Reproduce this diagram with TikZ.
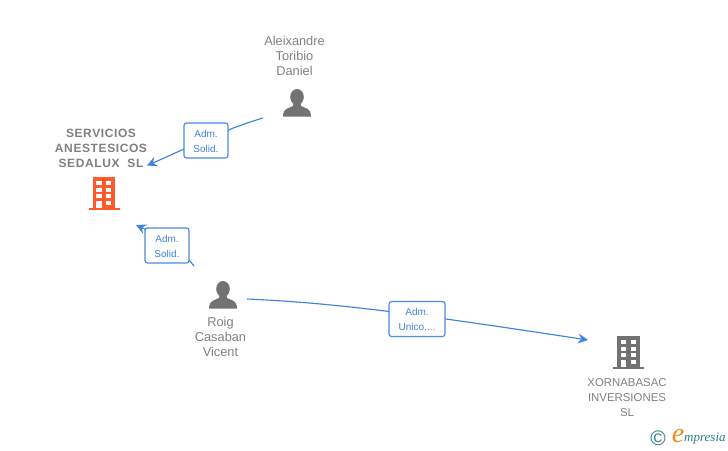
\documentclass[tikz,border=0pt]{standalone}
\usepackage{fontspec}
\setmainfont{Liberation Sans}
\newfontfamily\spacedbold[LetterSpace=5]{Liberation Sans Bold}
\newfontfamily\logofont{Liberation Serif Italic}
\usetikzlibrary{arrows.meta}
\definecolor{txtgrey}{HTML}{808080}
\definecolor{icongrey}{HTML}{727272}
\definecolor{linkblue}{HTML}{3F82E0}
\definecolor{boxblue}{HTML}{4A8BE4}
\definecolor{orangeicon}{HTML}{FF5A2B}
\definecolor{logoteal}{HTML}{2F7C90}
\definecolor{logoorange}{HTML}{F08A1D}
\newcommand{\personicon}[2]{%
  \fill[icongrey] (#1-3.5,#2+14) -- (#1+3.5,#2+14) -- (#1+4,#2+17)
    .. controls (#1+7,#2+19) and (#1+14,#2+18.5) .. (#1+14,#2+27.5)
    -- (#1-14,#2+27.5)
    .. controls (#1-14,#2+18.5) and (#1-7,#2+19) .. (#1-4,#2+17) -- cycle;
  \fill[icongrey] (#1,#2+8) ellipse [x radius=6.8, y radius=8];}
\newcommand{\buildingicon}[3]{%
  \fill[#3] (#1-11.3,#2) rectangle (#1+11.2,#2+31);
  \fill[#3] (#1-15.5,#2+31) rectangle (#1+15.8,#2+33.2);
  \foreach \r in {4.2,10.7,17}{
    \fill[white] (#1-7.6,#2+\r) rectangle (#1-2.2,#2+\r+4.2);
    \fill[white] (#1+2,#2+\r) rectangle (#1+7.4,#2+\r+4.2);}
  \fill[white] (#1-7.6,#2+23.5) rectangle (#1-2.2,#2+31);
  \fill[white] (#1+2,#2+23.5) rectangle (#1+7.4,#2+27.7);}
\tikzset{
  x=1pt,y=-1pt,
  lbl/.style={font=\fontsize{12.8}{15}\selectfont,text=txtgrey,align=center,inner sep=0pt},
  boldlbl/.style={font=\fontsize{12}{15}\selectfont\spacedbold,text=txtgrey,align=center,inner sep=0pt},
  rolebox/.style={draw=boxblue,line width=1.2pt,rounded corners=2.5pt,fill=white,text=linkblue,
    font=\fontsize{10}{15}\selectfont,align=center,inner sep=0pt},
  link/.style={draw=linkblue,line width=1.15pt},
  linkarrow/.style={link,-{Stealth[length=10pt,width=10pt,inset=3.5pt]}}
}
\begin{document}
\begin{tikzpicture}
\useasboundingbox (0,0) rectangle (728,450);
\coordinate (aleixOut) at (263,118);
\coordinate (servIn) at (147,165.5);
\coordinate (roigOut) at (194,266);
\coordinate (servIn2) at (136,225);
\coordinate (roigOut2) at (247,299);
\coordinate (xornIn) at (588,340);
\draw[linkarrow] (aleixOut) .. controls (225,129) and (185,149) .. (servIn);
\draw[linkarrow] (roigOut) .. controls (180,248) and (160,236) .. (servIn2);
\draw[linkarrow] (roigOut2) .. controls (340,303) and (430,316) .. (xornIn);
\node[rolebox,minimum width=44pt,minimum height=35pt] (box1) at (206,140.5) {\parbox{40pt}{\centering\vspace*{2pt}Adm.\\Solid.}};
\node[rolebox,minimum width=44pt,minimum height=35pt] (box2) at (167,245.5) {\parbox{40pt}{\centering\vspace*{2pt}Adm.\\Solid.}};
\node[rolebox,minimum width=56pt,minimum height=35pt] (box3) at (417,319) {\parbox{52pt}{\centering\vspace*{2pt}Adm.\\Unico,...}};
\node[lbl] (aleix) at (294.5,56) {Aleixandre\\Toribio\\Daniel};
\node[lbl] (roig) at (220.5,337.4) {Roig\\Casaban\\Vicent};
\node[boldlbl] (serv) at (101,148) {SERVICIOS\\ANESTESICOS\\SEDALUX\ \ SL};
\node[lbl,font=\fontsize{11.4}{15}\selectfont] (xorn) at (627,398) {XORNABASAC\\INVERSIONES\\SL};
\personicon{297}{89}
\personicon{223}{281}
\buildingicon{104}{177}{orangeicon}
\buildingicon{628.5}{336}{icongrey}
\node[inner sep=0pt,text=logoteal,font=\fontsize{21}{21}\selectfont] (copy) at (658,438.5) {©};
\node[inner sep=0pt,text=logoorange,font=\fontsize{28}{28}\logofont] (logoe) at (678,436) {e};
\node[inner sep=0pt,anchor=west,text=logoteal,font=\fontsize{13}{14}\logofont] (logo) at (684,439) {mpresia};
\end{tikzpicture}
\end{document}
